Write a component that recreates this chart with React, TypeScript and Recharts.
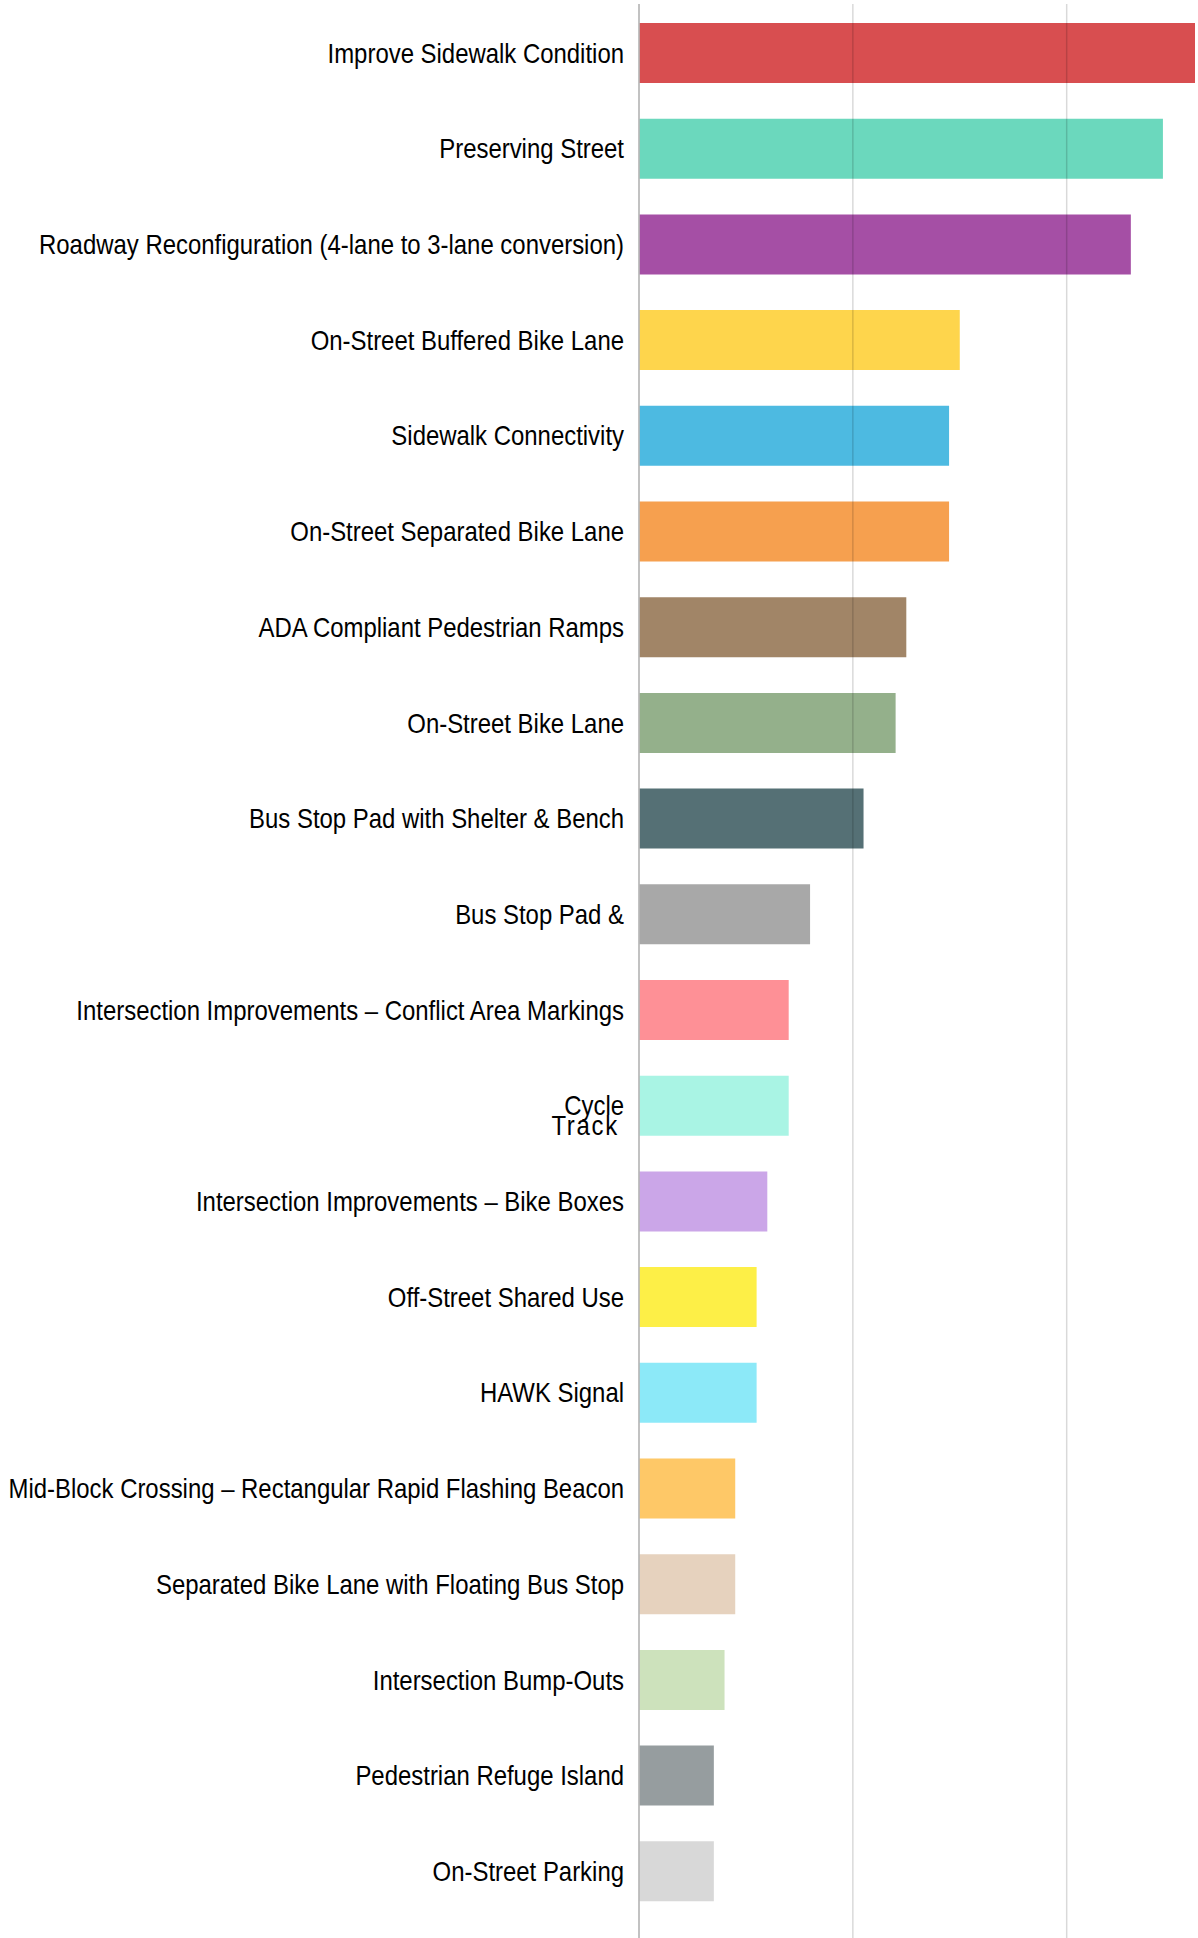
import React from "react";
import { BarChart, Bar, XAxis, YAxis, Cell, ReferenceLine } from "recharts";

const categories = [
  "Improve Sidewalk Condition",
  "Preserving Street",
  "Roadway Reconfiguration (4-lane to 3-lane conversion)",
  "On-Street Buffered Bike Lane",
  "Sidewalk Connectivity",
  "On-Street Separated Bike Lane",
  "ADA Compliant Pedestrian Ramps",
  "On-Street Bike Lane",
  "Bus Stop Pad with Shelter & Bench",
  "Bus Stop Pad &",
  "Intersection Improvements – Conflict Area Markings",
  "Cycle Track",
  "Intersection Improvements – Bike Boxes",
  "Off-Street Shared Use",
  "HAWK Signal",
  "Mid-Block Crossing – Rectangular Rapid Flashing Beacon",
  "Separated Bike Lane with Floating Bus Stop",
  "Intersection Bump-Outs",
  "Pedestrian Refuge Island",
  "On-Street Parking",
];

const values = [52, 49, 46, 30, 29, 29, 25, 24, 21, 16, 14, 14, 12, 11, 11, 9, 9, 8, 7, 7];

const colors = [
  "#d84e50",
  "#6bd8bd",
  "#a54fa5",
  "#fed54c",
  "#4dbae1",
  "#f6a04f",
  "#a18567",
  "#94b08b",
  "#557075",
  "#a8a8a8",
  "#fe9096",
  "#a9f4e4",
  "#cba6e8",
  "#fdef47",
  "#8ce9f8",
  "#fec867",
  "#e6d2be",
  "#cde2bc",
  "#969d9f",
  "#d8d8d8",
];

const gridValues = [20, 40];

const data = categories.map((name, i) => ({ name, value: values[i] }));

const FONT = "'Liberation Sans', Arial, sans-serif";
const FS = 27.5;
const SX = 0.87;

const Label = ({ x, y, text, spacing }: { x: number; y: number; text: string; spacing?: number }) => (
  <text
    transform={`translate(${x},${y}) scale(${SX},1)`}
    x={0}
    y={0}
    dy="0.355em"
    textAnchor="end"
    fontFamily={FONT}
    fontSize={FS}
    letterSpacing={spacing || 0}
    fill="#000"
  >
    {text}
  </text>
);

const Tick = (props: any) => {
  const { x, y, payload } = props;
  const label: string = payload.value;
  if (label === "Cycle Track") {
    return (
      <g>
        <Label x={x} y={y} text="Cycle" />
        <Label x={x - 5} y={y + 20} text="Track" spacing={2} />
      </g>
    );
  }
  return <Label x={x} y={y} text={label} />;
};

export default function App() {
  return (
    <div style={{ position: "absolute", left: 0, top: 0, width: 1198, height: 1938, background: "#fff" }}>
      <BarChart
        width={1198}
        height={1938}
        data={data}
        layout="vertical"
        margin={{ top: 4, right: 3, bottom: 0, left: 0 }}
      >
        <XAxis type="number" domain={[0, 52]} hide />
        <YAxis
          type="category"
          dataKey="name"
          width={639}
          padding={{ top: 1, bottom: 19 }}
          tickLine={false}
          tickSize={0}
          tickMargin={15}
          axisLine={{ stroke: "#b8b8b8", strokeWidth: 1.7 }}
          tick={<Tick />}
          interval={0}
        />
        <Bar dataKey="value" barSize={60} isAnimationActive={false}>
          {data.map((d, i) => (
            <Cell key={d.name} fill={colors[i]} />
          ))}
        </Bar>
        {gridValues.map((v) => (
          <ReferenceLine key={v} x={v} stroke="rgba(0,0,0,0.15)" strokeWidth={1.5} />
        ))}
      </BarChart>
    </div>
  );
}
